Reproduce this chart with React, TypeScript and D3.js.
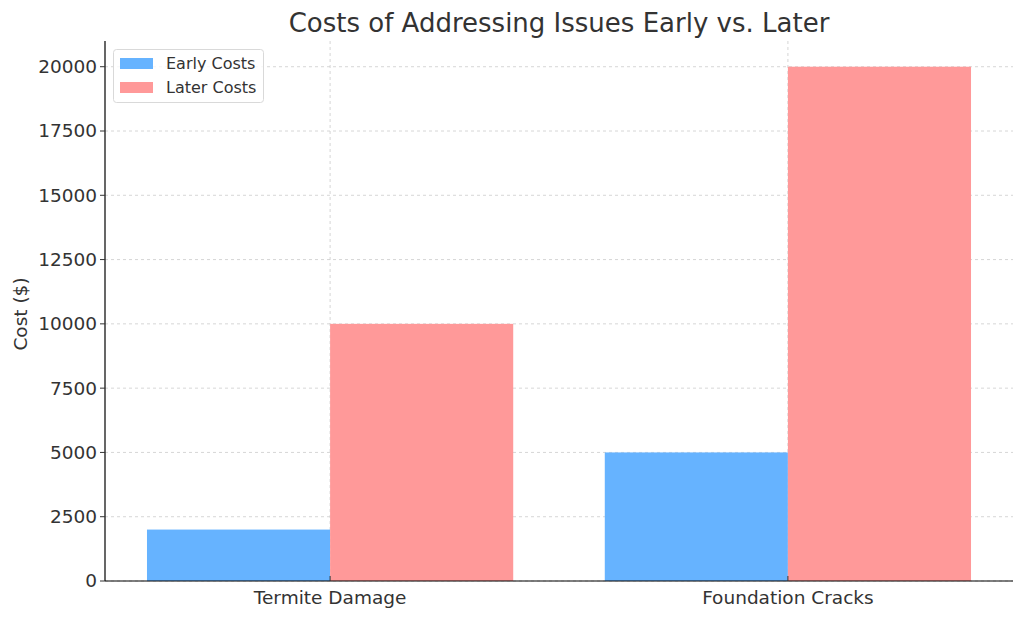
import React from 'react';
import * as d3 from 'd3';

const categories = ['Termite Damage', 'Foundation Cracks'];
const earlyCosts = [2000, 5000];
const laterCosts = [10000, 20000];
const yTicks = [0, 2500, 5000, 7500, 10000, 12500, 15000, 17500, 20000];

const W = 1024;
const H = 618;
const margin = { top: 41, right: 11, bottom: 37, left: 105 };
const font = 'DejaVu Sans, sans-serif';
const textColor = '#333333';

const App: React.FC = () => {
  const x = d3
    .scaleLinear()
    .domain([-0.4917, 1.4917])
    .range([margin.left, W - margin.right]);
  const y = d3
    .scaleLinear()
    .domain([0, 21000])
    .range([H - margin.bottom, margin.top]);
  const barW = 0.4;
  const series = [
    { name: 'Early Costs', values: earlyCosts, color: '#66b3ff', offset: -barW },
    { name: 'Later Costs', values: laterCosts, color: '#ff9999', offset: 0 },
  ];
  const bottom = H - margin.bottom;

  return (
    <svg width={W} height={H} style={{ display: 'block', position: 'absolute', left: 0, top: 0 }}>
      <rect width={W} height={H} fill="#fff" />
      {/* grid */}
      {yTicks.map((t) => (
        <line
          key={'gy' + t}
          x1={margin.left}
          x2={W - margin.right}
          y1={y(t)}
          y2={y(t)}
          stroke="#cccccc"
          strokeWidth={0.8}
          strokeDasharray="3,3"
        />
      ))}
      {categories.map((c, i) => (
        <line
          key={'gx' + c}
          x1={x(i)}
          x2={x(i)}
          y1={margin.top}
          y2={bottom}
          stroke="#cccccc"
          strokeWidth={0.8}
          strokeDasharray="3,3"
        />
      ))}
      {/* bars */}
      {series.map((s) =>
        s.values.map((v, i) => (
          <rect
            key={s.name + i}
            x={x(i + s.offset)}
            y={y(v)}
            width={x(i + s.offset + barW) - x(i + s.offset)}
            height={bottom - y(v)}
            fill={s.color}
          />
        ))
      )}
      {/* axes */}
      <line x1={margin.left} x2={margin.left} y1={margin.top} y2={bottom} stroke="#000" strokeWidth={1.2} />
      <line x1={margin.left} x2={W - margin.right} y1={bottom} y2={bottom} stroke="#000" strokeWidth={1.2} />
      {yTicks.map((t) => (
        <g key={'yt' + t}>
          <line x1={margin.left - 5} x2={margin.left} y1={y(t)} y2={y(t)} stroke="#333" strokeWidth={1} />
          <text
            x={margin.left - 8}
            y={y(t)}
            dy="0.35em"
            textAnchor="end"
            fontFamily={font}
            fontSize={18.5}
            fill={textColor}
          >
            {t}
          </text>
        </g>
      ))}
      {categories.map((c, i) => (
        <g key={'xt' + c}>
          <line x1={x(i)} x2={x(i)} y1={bottom} y2={bottom - 5} stroke="#333" strokeWidth={1} />
          <text
            x={x(i)}
            y={bottom + 23}
            textAnchor="middle"
            fontFamily={font}
            fontSize={18.5}
            fill={textColor}
          >
            {c}
          </text>
        </g>
      ))}
      <text
        transform={`translate(27,${(margin.top + bottom) / 2 + 3}) rotate(-90)`}
        textAnchor="middle"
        fontFamily={font}
        fontSize={18.5}
        fill={textColor}
      >
        Cost ($)
      </text>
      <text x={559} y={32} textAnchor="middle" fontFamily={font} fontSize={26} fill={textColor}>
        Costs of Addressing Issues Early vs. Later
      </text>
      {/* legend */}
      <g>
        <rect x={113.5} y={49.5} width={150} height={53} rx={3} fill="#fff" fillOpacity={0.8} stroke="#d9d9d9" />
        {series.map((s, i) => (
          <g key={'lg' + s.name}>
            <rect x={120} y={58 + i * 24} width={33} height={11} fill={s.color} />
            <text
              x={166}
              y={63.5 + i * 24}
              dy="0.35em"
              fontFamily={font}
              fontSize={16}
              fill={textColor}
            >
              {s.name}
            </text>
          </g>
        ))}
      </g>
    </svg>
  );
};

export default App;
